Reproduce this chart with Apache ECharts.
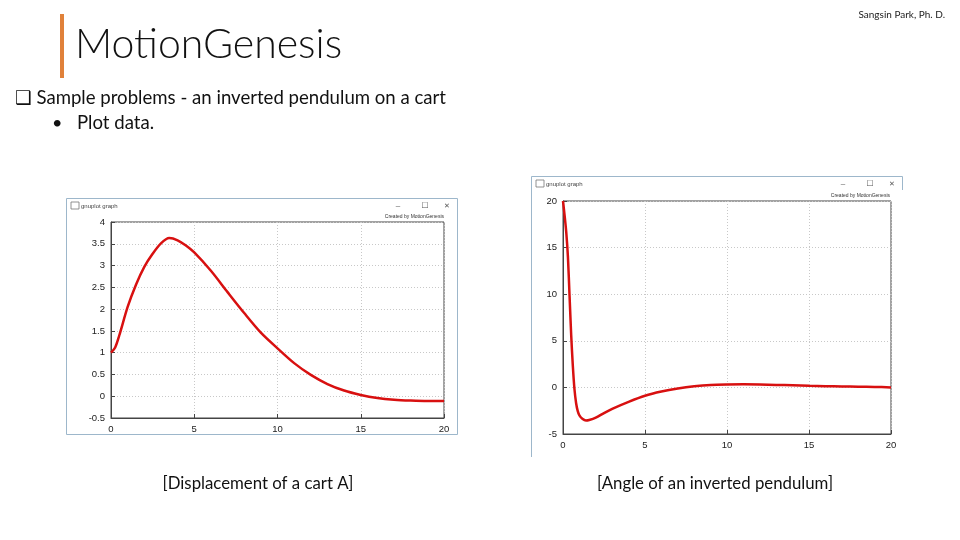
<!DOCTYPE html>
<html>
<head>
<meta charset="utf-8">
<script src="https://cdn.jsdelivr.net/npm/echarts@6/dist/echarts.min.js"></script>
<style>
html,body{margin:0;padding:0;background:#fff;}
#c{width:960px;height:540px;}
</style>
</head>
<body>
<div id="c"></div>
<script>
// ---- Data: displacement of cart A (left plot) ----
const tA = [0,0.25,0.5,1,1.5,2,2.5,3,3.5,4,4.5,5,6,7,8,9,10,11,12,13,14,15,16,17,18,19,20];
const xA = [1.0,1.12,1.40,2.05,2.56,2.97,3.27,3.51,3.63,3.58,3.46,3.30,2.88,2.39,1.91,1.46,1.10,0.76,0.49,0.28,0.13,0.03,-0.04,-0.08,-0.10,-0.11,-0.11];
// ---- Data: angle of inverted pendulum (right plot) ----
const tB = [0,0.1,0.2,0.3,0.4,0.5,0.6,0.7,0.8,0.9,1.0,1.2,1.4,1.6,2,2.5,3,4,5,6,7,8,9,10,11,12,13,14,15,16,17,18,19,20];
const thB = [20,18.4,16.6,14.0,9.8,5.6,2.3,-0.2,-1.7,-2.55,-3.0,-3.4,-3.55,-3.5,-3.25,-2.75,-2.3,-1.55,-0.9,-0.45,-0.12,0.12,0.27,0.32,0.33,0.31,0.27,0.22,0.17,0.13,0.1,0.07,0.05,0.0];
// ---- Axis ticks ----
const xTicks = {min:0, max:20, interval:5};
const yTicksA = {min:-0.5, max:4, interval:0.5};
const yTicksB = {min:-5, max:20, interval:5};
// ---- Texts ----
const slideTitle = 'MotionGenesis';
const author = 'Sangsin Park, Ph. D.';
const bullet1 = '\u2751 Sample problems - an inverted pendulum on a cart';
const bullet2 = 'Plot data.';
const captionA = '[Displacement of a cart A]';
const captionB = '[Angle of an inverted pendulum]';
const windowTitle = 'gnuplot graph';
const createdBy = 'Created by MotionGenesis';

const zip = (a,b) => a.map((v,i)=>[v,b[i]]);
const slideFont = 'Lato, "Open Sans", "DejaVu Sans", sans-serif';
const plotFont = '"Liberation Sans", Arial, sans-serif';

function axisCfg(gi, t){
  return {gridIndex:gi, type:'value', min:t.min, max:t.max, interval:t.interval,
    axisLine:{show:true, onZero:false, lineStyle:{color:'#444', width:1}},
    axisTick:{show:true, inside:true, length:4, lineStyle:{color:'#444'}},
    axisLabel:{color:'#222', fontSize:9.5, fontFamily:plotFont, margin:6},
    splitLine:{show:true, lineStyle:{color:'#c8c8c8', type:[1,2], width:1}}};
}

function windowChrome(x0, y0, x1){
  return [
    {type:'rect', shape:{x:x0+5, y:y0+4, width:8, height:7}, style:{fill:'none', stroke:'#777', lineWidth:0.8}},
    {type:'text', style:{x:x0+15, y:y0+8, text:windowTitle, fill:'#444', font:'6px '+plotFont, verticalAlign:'middle'}},
    {type:'text', style:{x:x1-60, y:y0+8, text:'\u2013', fill:'#555', font:'8px '+plotFont, verticalAlign:'middle', align:'center'}},
    {type:'text', style:{x:x1-33, y:y0+8, text:'\u2610', fill:'#555', font:'8px "DejaVu Sans"', verticalAlign:'middle', align:'center'}},
    {type:'text', style:{x:x1-11, y:y0+8, text:'\u2715', fill:'#555', font:'7px "DejaVu Sans"', verticalAlign:'middle', align:'center'}}
  ];
}

const chart = echarts.init(document.getElementById('c'), null, {renderer:'canvas'});
chart.setOption({
  animation:false,
  backgroundColor:'#fff',
  grid:[
    {left:111, top:222, width:333, height:196, show:true, borderColor:'#444', borderWidth:1, backgroundColor:'transparent'},
    {left:563, top:201, width:328, height:233, show:true, borderColor:'#444', borderWidth:1, backgroundColor:'transparent'}
  ],
  xAxis:[axisCfg(0, xTicks), axisCfg(1, xTicks)],
  yAxis:[axisCfg(0, yTicksA), axisCfg(1, yTicksB)],
  series:[
    {type:'line', xAxisIndex:0, yAxisIndex:0, data:zip(tA,xA), smooth:0.3, showSymbol:false,
      lineStyle:{color:'#d81010', width:2.5}},
    {type:'line', xAxisIndex:1, yAxisIndex:1, data:zip(tB,thB), smooth:0.3, showSymbol:false,
      lineStyle:{color:'#d81010', width:2.5}}
  ],
  graphic:[
    {type:'rect', shape:{x:60, y:14, width:4, height:64}, style:{fill:'#E0813A'}},
    {type:'text', style:{x:75, y:45, text:slideTitle, fill:'#111', font:'300 41px '+slideFont, verticalAlign:'middle'}},
    {type:'text', style:{x:15, y:98, text:bullet1, fill:'#111', font:'18.6px '+slideFont, verticalAlign:'middle'}},
    {type:'text', style:{x:52, y:123, text:'\u2022', fill:'#111', font:'18px '+slideFont, verticalAlign:'middle'}},
    {type:'text', style:{x:77, y:123, text:bullet2, fill:'#111', font:'18.6px '+slideFont, verticalAlign:'middle'}},
    {type:'text', style:{x:945, y:15, text:author, fill:'#222', font:'10px '+slideFont, verticalAlign:'middle', align:'right'}},
    {type:'text', style:{x:258, y:484, text:captionA, fill:'#111', font:'16.8px '+slideFont, verticalAlign:'middle', align:'center'}},
    {type:'text', style:{x:715, y:484, text:captionB, fill:'#111', font:'16.8px '+slideFont, verticalAlign:'middle', align:'center'}},
    {type:'rect', shape:{x:66.5, y:198.5, width:391, height:236}, style:{fill:'none', stroke:'#9db7cb', lineWidth:1}},
    {type:'polyline', shape:{points:[[531.5,457],[531.5,176.5],[902.5,176.5],[902.5,190]]}, style:{fill:'none', stroke:'#9db7cb', lineWidth:1}},
    ...windowChrome(66, 198, 458),
    ...windowChrome(531, 176, 903),
    {type:'text', style:{x:444, y:217, text:createdBy, fill:'#333', font:'5px '+plotFont, verticalAlign:'middle', align:'right'}},
    {type:'text', style:{x:890, y:196, text:createdBy, fill:'#333', font:'5px '+plotFont, verticalAlign:'middle', align:'right'}}
  ]
});
</script>
</body>
</html>
